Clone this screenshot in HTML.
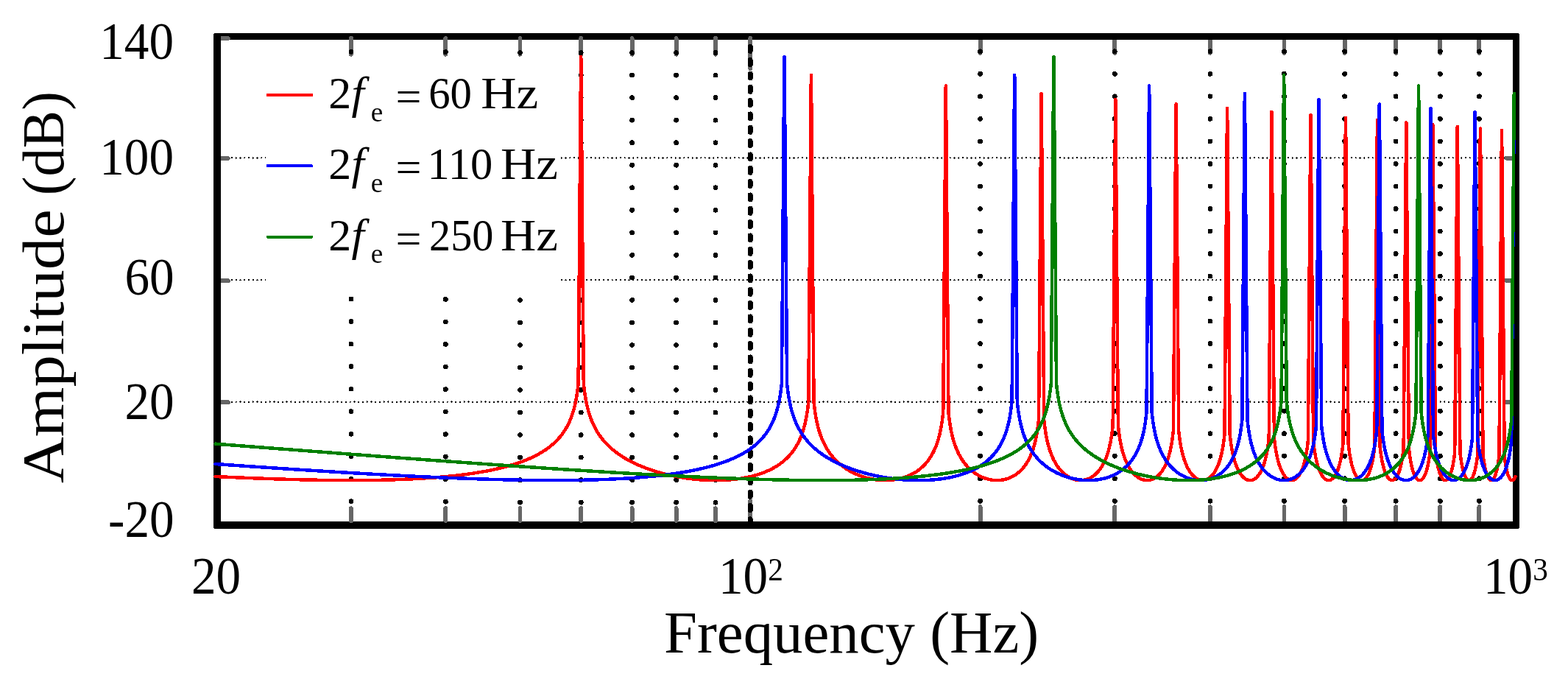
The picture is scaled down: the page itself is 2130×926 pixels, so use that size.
<!DOCTYPE html>
<html lang="en"><head><meta charset="utf-8"><title>Amplitude vs Frequency</title>
<style>html,body{margin:0;padding:0;background:#fff}body{width:2130px;height:926px;overflow:hidden}svg{display:block}text{font-family:"Liberation Serif","DejaVu Serif",serif;fill:#000}.it{font-style:italic}</style></head><body>
<svg width="2130" height="926" viewBox="0 0 2130 926">
<rect x="0" y="0" width="2130" height="926" fill="#fff"/>
<g stroke="#666" stroke-width="5.9" stroke-linecap="round" fill="none" shape-rendering="crispEdges">
<line x1="1331.55" y1="50" x2="1331.55" y2="71.8"/>
<line x1="1331.55" y1="688.3" x2="1331.55" y2="712"/>
<line x1="1514.29" y1="50" x2="1514.29" y2="71.8"/>
<line x1="1514.29" y1="688.3" x2="1514.29" y2="712"/>
<line x1="1643.94" y1="50" x2="1643.94" y2="71.8"/>
<line x1="1643.94" y1="688.3" x2="1643.94" y2="712"/>
<line x1="1744.50" y1="50" x2="1744.50" y2="71.8"/>
<line x1="1744.50" y1="688.3" x2="1744.50" y2="712"/>
<line x1="1826.67" y1="50" x2="1826.67" y2="71.8"/>
<line x1="1826.67" y1="688.3" x2="1826.67" y2="712"/>
<line x1="1896.15" y1="50" x2="1896.15" y2="71.8"/>
<line x1="1896.15" y1="688.3" x2="1896.15" y2="712"/>
<line x1="1956.33" y1="50" x2="1956.33" y2="71.8"/>
<line x1="1956.33" y1="688.3" x2="1956.33" y2="712"/>
<line x1="2009.41" y1="50" x2="2009.41" y2="71.8"/>
<line x1="2009.41" y1="688.3" x2="2009.41" y2="712"/>
<line x1="2046.2" y1="214.60" x2="2058" y2="214.60"/>
<line x1="2046.2" y1="380.70" x2="2058" y2="380.70"/>
<line x1="2046.2" y1="546.00" x2="2058" y2="546.00"/>
</g>
<path fill="#000" fill-rule="evenodd" shape-rendering="crispEdges" d="M293 45H2061Q2064 45 2064 48V715Q2064 718 2061 718H293Q290 718 290 715V48Q290 45 293 45ZM300 54V708H2055V54Z"/>
<g stroke="#666" stroke-width="5.9" stroke-linecap="round" fill="none" shape-rendering="crispEdges">
<line x1="476.96" y1="52" x2="476.96" y2="73.7"/>
<line x1="476.96" y1="690.2" x2="476.96" y2="707"/>
<line x1="605.31" y1="52" x2="605.31" y2="73.7"/>
<line x1="605.31" y1="690.2" x2="605.31" y2="707"/>
<line x1="706.47" y1="52" x2="706.47" y2="73.7"/>
<line x1="706.47" y1="690.2" x2="706.47" y2="707"/>
<line x1="789.24" y1="52" x2="789.24" y2="73.7"/>
<line x1="789.24" y1="690.2" x2="789.24" y2="707"/>
<line x1="858.62" y1="52" x2="858.62" y2="73.7"/>
<line x1="858.62" y1="690.2" x2="858.62" y2="707"/>
<line x1="918.60" y1="52" x2="918.60" y2="73.7"/>
<line x1="918.60" y1="690.2" x2="918.60" y2="707"/>
<line x1="971.98" y1="52" x2="971.98" y2="73.7"/>
<line x1="971.98" y1="690.2" x2="971.98" y2="707"/>
<line x1="1019.16" y1="52" x2="1019.16" y2="93"/>
<line x1="1019.16" y1="680" x2="1019.16" y2="706"/>
</g>
<g stroke="#666" stroke-width="5.8" fill="none" shape-rendering="crispEdges">
<path d="M300 52.00H310.5" stroke-linecap="butt"/>
<circle cx="310.2" cy="52.00" r="2.6" fill="#666" stroke="none"/>
<path d="M300 215.00H310.5" stroke-linecap="butt"/>
<circle cx="310.2" cy="215.00" r="2.6" fill="#666" stroke="none"/>
<path d="M300 381.20H310.5" stroke-linecap="butt"/>
<circle cx="310.2" cy="381.20" r="2.6" fill="#666" stroke="none"/>
<path d="M300 546.20H310.5" stroke-linecap="butt"/>
<circle cx="310.2" cy="546.20" r="2.6" fill="#666" stroke="none"/>
</g>
<g stroke="#000" fill="none" stroke-linecap="round" shape-rendering="crispEdges">
<path d="M476.96 70.20V690" stroke-width="6.8" stroke-dasharray="0 30.53"/>
<path d="M605.31 70.60V690" stroke-width="6.8" stroke-dasharray="0 30.53"/>
<path d="M706.47 71.60V690" stroke-width="6.8" stroke-dasharray="0 30.53"/>
<path d="M789.24 71.60V690" stroke-width="6.8" stroke-dasharray="0 30.53"/>
<path d="M858.62 71.60V690" stroke-width="6.8" stroke-dasharray="0 30.53"/>
<path d="M918.60 71.60V690" stroke-width="6.8" stroke-dasharray="0 30.53"/>
<path d="M971.98 71.60V690" stroke-width="6.8" stroke-dasharray="0 30.53"/>
<path d="M1331.55 69.8V688" stroke-width="6.8" stroke-dasharray="0 30.525"/>
<path d="M1514.29 69.8V688" stroke-width="6.8" stroke-dasharray="0 30.525"/>
<path d="M1643.94 69.8V688" stroke-width="6.8" stroke-dasharray="0 30.525"/>
<path d="M1744.50 69.8V688" stroke-width="6.8" stroke-dasharray="0 30.525"/>
<path d="M1826.67 69.8V688" stroke-width="6.8" stroke-dasharray="0 30.525"/>
<path d="M1896.15 69.8V688" stroke-width="6.8" stroke-dasharray="0 30.525"/>
<path d="M1956.33 69.8V688" stroke-width="6.8" stroke-dasharray="0 30.525"/>
<path d="M2009.41 69.8V688" stroke-width="6.8" stroke-dasharray="0 30.525"/>
<path d="M1019.16 63.3V708" stroke-width="7" stroke-dasharray="6 12.33"/>
<path d="M315 214.45H2044" stroke-width="2.3" stroke-dasharray="0 5.74"/>
<path d="M315 380.30H2044" stroke-width="2.3" stroke-dasharray="0 5.74"/>
<path d="M315 545.60H2044" stroke-width="2.3" stroke-dasharray="0 5.74"/>
</g>
<rect x="361" y="84" width="398.6" height="313" fill="#fff"/>
<path d="M292.57,647.01 320.97,648.31 347.77,649.41 373.36,650.32 397.76,651.05 420.96,651.59 443.36,651.96 464.96,652.16 485.36,652.17 504.96,652.00 523.76,651.65 541.35,651.12 558.55,650.41 574.95,649.50 590.55,648.42 605.35,647.15 619.35,645.70 632.55,644.09 645.35,642.24 657.35,640.22 663.35,639.09 668.95,637.96 674.55,636.74 679.75,635.52 684.95,634.22 689.75,632.93 694.54,631.55 699.34,630.07 703.74,628.62 708.14,627.07 712.54,625.41 716.54,623.79 720.54,622.06 724.14,620.39 727.74,618.61 731.34,616.70 734.94,614.65 738.14,612.69 741.34,610.59 744.14,608.61 746.94,606.50 749.74,604.23 752.54,601.77 754.94,599.49 757.34,597.04 759.74,594.39 762.54,590.98 764.94,587.75 767.34,584.16 769.74,580.14 771.74,576.38 773.74,572.14 775.34,568.33 776.94,564.04 778.54,559.13 779.74,554.94 780.94,550.16 782.14,544.63 783.34,538.05 784.14,532.86 784.94,526.77 785.60,520.77 789.15,77.00 789.25,77.00 792.80,521.05 793.34,526.01 794.14,532.34 794.94,537.71 795.74,542.39 796.54,546.53 797.34,550.25 798.14,553.62 799.34,558.14 800.54,562.17 801.74,565.79 802.94,569.09 804.54,573.06 806.14,576.64 807.74,579.90 809.34,582.90 811.34,586.32 813.34,589.45 815.34,592.34 817.34,595.01 819.74,597.97 822.14,600.71 824.94,603.67 827.34,606.02 830.14,608.58 832.94,610.97 836.14,613.52 839.34,615.89 842.54,618.11 846.14,620.44 849.74,622.62 853.34,624.66 857.33,626.78 861.33,628.77 865.33,630.63 868.93,632.21 872.93,633.86 876.93,635.41 880.93,636.87 884.93,638.25 889.33,639.67 897.73,642.14 906.53,644.39 915.73,646.42 924.93,648.13 929.73,648.90 934.53,649.59 944.13,650.73 953.33,651.52 962.53,652.01 971.73,652.18 980.53,652.04 984.93,651.86 989.33,651.58 993.73,651.22 997.73,650.82 1002.13,650.28 1006.13,649.70 1010.13,649.04 1013.73,648.36 1017.32,647.60 1020.92,646.75 1024.52,645.82 1027.72,644.90 1030.92,643.90 1034.12,642.81 1037.32,641.62 1040.12,640.50 1043.32,639.11 1046.12,637.79 1048.92,636.37 1051.72,634.83 1054.52,633.17 1056.92,631.64 1059.32,630.00 1061.72,628.23 1064.12,626.32 1066.12,624.61 1068.12,622.79 1070.12,620.83 1072.12,618.73 1074.12,616.45 1076.12,613.98 1077.72,611.85 1079.32,609.56 1080.92,607.08 1082.52,604.39 1083.72,602.21 1085.32,599.06 1086.52,596.47 1088.52,591.66 1090.52,586.03 1092.12,580.74 1093.72,574.49 1094.52,570.87 1095.32,566.84 1096.52,559.75 1097.32,554.07 1098.31,545.44 1101.86,101.93 1101.96,101.93 1105.51,545.73 1106.52,554.53 1107.72,562.81 1108.52,567.42 1109.32,571.51 1110.92,578.51 1111.72,581.56 1112.92,585.69 1114.12,589.38 1115.32,592.73 1116.52,595.79 1117.72,598.61 1118.92,601.22 1120.52,604.41 1122.12,607.34 1123.72,610.03 1125.32,612.52 1126.92,614.85 1128.92,617.53 1130.92,620.01 1132.92,622.31 1134.92,624.45 1136.92,626.45 1139.32,628.68 1141.72,630.74 1144.12,632.66 1146.52,634.44 1149.32,636.36 1151.72,637.89 1154.52,639.54 1158.92,641.88 1163.72,644.11 1168.52,646.03 1173.32,647.66 1178.11,649.03 1183.31,650.23 1188.51,651.14 1193.71,651.77 1198.91,652.11 1204.11,652.17 1209.31,651.94 1214.11,651.44 1218.91,650.67 1223.71,649.60 1228.11,648.32 1232.51,646.75 1236.51,645.02 1240.51,642.97 1244.11,640.82 1247.71,638.33 1250.91,635.78 1254.11,632.88 1255.71,631.26 1257.31,629.53 1260.11,626.18 1262.51,622.91 1264.91,619.20 1267.31,614.95 1269.31,610.88 1271.31,606.19 1272.91,601.87 1274.51,596.89 1276.11,591.04 1276.91,587.68 1277.71,583.96 1278.91,577.48 1280.11,569.51 1281.24,559.86 1284.79,116.51 1284.89,116.51 1288.44,560.15 1289.31,567.88 1290.51,576.36 1291.71,583.20 1292.91,588.93 1294.51,595.36 1296.11,600.79 1298.11,606.55 1300.11,611.47 1301.31,614.11 1302.51,616.55 1304.91,620.93 1306.11,622.90 1307.71,625.35 1310.51,629.18 1312.11,631.16 1313.71,632.99 1315.31,634.69 1316.91,636.28 1318.51,637.77 1320.51,639.48 1322.51,641.06 1324.51,642.50 1327.71,644.56 1330.91,646.34 1334.11,647.85 1337.70,649.27 1341.30,650.40 1344.90,651.25 1348.50,651.82 1352.10,652.13 1355.70,652.17 1359.30,651.92 1362.90,651.40 1366.10,650.67 1369.70,649.55 1372.90,648.26 1376.10,646.67 1378.90,645.00 1381.70,643.04 1384.50,640.75 1386.90,638.49 1389.30,635.92 1391.70,632.97 1393.70,630.19 1395.70,627.04 1397.70,623.45 1399.70,619.34 1401.30,615.56 1402.90,611.25 1404.10,607.57 1405.30,603.41 1406.50,598.64 1407.70,593.08 1408.50,588.78 1409.70,581.12 1410.50,574.87 1411.02,570.08 1414.57,126.85 1414.67,126.85 1418.22,570.36 1418.90,576.50 1420.10,585.30 1420.90,590.14 1422.10,596.34 1423.30,601.60 1424.50,606.15 1426.10,611.40 1427.70,615.92 1429.70,620.79 1431.70,624.99 1433.70,628.65 1436.10,632.48 1438.50,635.79 1440.90,638.67 1443.70,641.57 1446.50,644.04 1448.90,645.85 1451.70,647.64 1454.10,648.92 1456.90,650.13 1459.30,650.94 1462.10,651.63 1464.90,652.04 1467.70,652.18 1470.50,652.05 1472.90,651.72 1475.70,651.05 1478.10,650.24 1480.50,649.18 1482.90,647.87 1485.30,646.27 1487.70,644.37 1489.70,642.51 1491.70,640.37 1493.70,637.93 1495.70,635.12 1497.29,632.56 1498.89,629.70 1500.49,626.45 1502.09,622.75 1503.29,619.62 1504.49,616.10 1505.69,612.13 1506.89,607.57 1508.09,602.26 1508.89,598.17 1509.69,593.52 1510.49,588.12 1511.69,577.99 1515.24,134.87 1515.34,134.87 1518.89,578.28 1519.69,585.41 1520.49,591.33 1521.29,596.39 1522.09,600.81 1522.89,604.71 1524.09,609.84 1525.29,614.27 1526.89,619.36 1528.09,622.69 1529.69,626.61 1531.29,630.05 1533.29,633.80 1535.29,637.03 1537.29,639.83 1539.29,642.26 1541.69,644.74 1543.69,646.50 1545.69,647.99 1547.69,649.24 1550.09,650.43 1552.09,651.18 1554.49,651.81 1556.89,652.13 1558.89,652.18 1561.29,651.95 1563.29,651.52 1565.29,650.87 1567.29,649.98 1569.29,648.84 1571.29,647.43 1573.29,645.73 1575.29,643.69 1576.89,641.80 1578.49,639.64 1580.09,637.17 1581.69,634.35 1583.29,631.11 1584.49,628.36 1585.69,625.28 1586.89,621.80 1588.09,617.83 1588.89,614.87 1590.09,609.80 1590.89,605.90 1591.69,601.48 1592.49,596.37 1593.69,586.88 1593.95,584.45 1597.50,141.43 1597.60,141.43 1601.15,584.73 1601.69,589.70 1602.49,595.94 1603.29,601.22 1604.09,605.80 1604.89,609.82 1606.09,615.05 1606.89,618.12 1608.09,622.21 1609.29,625.81 1610.49,628.99 1611.69,631.84 1613.29,635.18 1614.89,638.10 1616.49,640.64 1618.09,642.85 1620.09,645.22 1621.69,646.83 1623.29,648.20 1624.89,649.36 1626.89,650.51 1628.49,651.21 1630.49,651.82 1632.49,652.13 1634.09,652.18 1636.09,651.97 1637.69,651.58 1639.69,650.82 1641.29,649.98 1642.89,648.91 1644.49,647.61 1646.09,646.05 1647.69,644.20 1649.29,642.03 1650.49,640.17 1652.09,637.33 1653.29,634.89 1654.49,632.14 1655.69,629.02 1656.89,625.47 1657.68,622.81 1658.48,619.88 1659.28,616.62 1660.08,612.97 1660.88,608.83 1661.68,604.07 1662.48,598.51 1663.49,589.89 1667.04,146.97 1667.14,146.97 1670.69,590.17 1671.68,598.76 1672.48,604.40 1673.28,609.22 1674.08,613.43 1674.88,617.14 1675.68,620.46 1676.48,623.45 1677.28,626.17 1678.48,629.79 1679.68,632.97 1680.88,635.78 1682.08,638.27 1683.68,641.16 1684.88,643.05 1686.48,645.23 1687.68,646.64 1689.28,648.24 1690.88,649.55 1692.48,650.58 1693.68,651.19 1695.28,651.77 1696.88,652.10 1698.48,652.18 1700.08,652.01 1701.68,651.59 1703.28,650.91 1704.48,650.22 1706.08,649.04 1707.28,647.95 1708.88,646.20 1710.08,644.65 1711.28,642.87 1712.48,640.83 1713.68,638.50 1714.48,636.77 1715.68,633.86 1716.48,631.69 1717.68,628.01 1718.48,625.23 1719.28,622.14 1720.08,618.66 1721.28,612.56 1722.48,604.98 1723.28,598.72 1723.73,594.59 1727.28,151.78 1727.38,151.78 1730.93,594.87 1732.08,604.58 1733.28,612.41 1734.48,618.71 1735.28,622.29 1736.08,625.48 1737.68,630.93 1738.48,633.28 1739.68,636.41 1740.48,638.27 1741.68,640.77 1742.88,642.94 1744.08,644.84 1745.28,646.48 1746.48,647.89 1747.68,649.08 1749.28,650.35 1750.48,651.08 1751.68,651.62 1752.88,651.98 1754.48,652.18 1755.28,652.16 1756.08,652.06 1757.28,651.76 1758.48,651.27 1759.68,650.59 1760.88,649.70 1762.08,648.60 1763.28,647.27 1764.48,645.68 1765.68,643.82 1766.48,642.42 1767.68,640.02 1768.48,638.22 1769.68,635.14 1770.48,632.82 1771.28,630.23 1772.08,627.35 1772.88,624.11 1773.68,620.44 1774.88,613.91 1776.08,605.63 1776.87,598.72 1780.42,156.01 1780.52,156.01 1784.07,599.00 1784.88,606.08 1786.08,614.41 1787.28,621.01 1788.48,626.41 1789.68,630.92 1790.48,633.54 1791.28,635.90 1792.88,639.95 1793.68,641.68 1794.88,643.97 1795.68,645.31 1796.88,647.06 1798.08,648.53 1799.28,649.73 1800.08,650.39 1801.28,651.18 1802.48,651.74 1803.68,652.07 1804.88,652.18 1806.08,652.07 1807.28,651.73 1808.48,651.15 1809.68,650.33 1810.88,649.25 1812.08,647.90 1812.88,646.83 1814.08,644.96 1814.88,643.52 1815.68,641.90 1816.48,640.10 1817.28,638.08 1818.08,635.83 1818.87,633.31 1819.67,630.47 1820.47,627.27 1821.27,623.63 1822.47,617.10 1823.67,608.77 1824.40,602.40 1827.95,159.80 1828.05,159.80 1831.60,602.68 1832.47,610.22 1833.27,615.88 1834.07,620.68 1835.27,626.67 1836.47,631.59 1837.67,635.69 1838.87,639.14 1839.67,641.14 1840.47,642.92 1841.27,644.52 1842.47,646.57 1843.27,647.74 1844.47,649.22 1845.27,650.02 1846.47,650.99 1847.27,651.47 1848.47,651.96 1849.67,652.17 1850.47,652.16 1851.67,651.92 1852.47,651.60 1853.67,650.88 1854.47,650.24 1855.67,649.01 1856.47,648.00 1857.67,646.18 1858.47,644.74 1859.27,643.11 1860.07,641.27 1860.87,639.19 1861.67,636.83 1862.87,632.71 1864.07,627.70 1865.27,621.50 1866.47,613.60 1867.40,605.72 1870.95,163.23 1871.05,163.23 1874.60,605.99 1875.27,611.90 1876.07,617.79 1876.87,622.72 1877.67,626.94 1878.47,630.60 1879.67,635.24 1880.47,637.87 1881.67,641.26 1882.47,643.20 1883.27,644.90 1884.07,646.39 1885.27,648.27 1886.07,649.30 1886.87,650.16 1887.67,650.87 1888.87,651.64 1889.67,651.97 1890.87,652.18 1892.07,652.07 1892.87,651.81 1894.07,651.13 1894.87,650.48 1895.67,649.67 1896.47,648.68 1897.27,647.51 1898.07,646.15 1898.87,644.56 1899.67,642.74 1900.47,640.66 1901.27,638.29 1902.47,634.07 1903.67,628.87 1904.87,622.35 1905.67,616.99 1906.66,608.73 1910.21,166.36 1910.31,166.36 1913.86,609.01 1914.87,617.52 1916.07,625.26 1916.87,629.46 1917.67,633.07 1918.47,636.20 1919.27,638.94 1920.07,641.32 1920.87,643.41 1921.67,645.22 1922.47,646.79 1923.27,648.14 1924.07,649.27 1924.87,650.21 1925.67,650.96 1926.47,651.53 1927.27,651.92 1927.67,652.05 1928.47,652.18 1929.27,652.14 1930.07,651.92 1930.47,651.75 1931.27,651.26 1932.07,650.59 1932.87,649.73 1933.67,648.67 1934.47,647.38 1935.27,645.87 1936.07,644.09 1936.87,642.03 1937.67,639.65 1938.87,635.37 1940.07,630.02 1940.87,625.67 1942.07,617.52 1942.77,611.49 1946.32,169.23 1946.42,169.23 1949.97,611.76 1950.87,619.37 1951.67,624.84 1952.47,629.42 1953.67,635.04 1954.87,639.53 1955.67,642.02 1956.47,644.16 1957.67,646.82 1958.47,648.26 1959.27,649.46 1960.07,650.43 1960.87,651.17 1961.67,651.71 1962.47,652.05 1963.27,652.18 1963.67,652.17 1964.47,652.00 1965.27,651.63 1966.07,651.04 1966.87,650.24 1967.67,649.20 1968.47,647.92 1969.27,646.38 1970.07,644.55 1970.87,642.39 1972.07,638.45 1973.27,633.47 1974.47,627.10 1975.27,621.79 1976.20,614.03 1979.75,171.90 1979.85,171.90 1983.40,614.30 1983.66,616.71 1984.06,620.05 1984.86,625.77 1986.06,632.59 1987.26,637.90 1988.06,640.80 1988.86,643.27 1989.66,645.38 1990.46,647.16 1991.26,648.64 1992.06,649.84 1992.86,650.78 1993.66,651.48 1994.46,651.94 1994.86,652.08 1995.66,652.18 1996.46,652.06 1996.86,651.91 1997.66,651.43 1998.46,650.70 1999.26,649.71 2000.06,648.46 2000.86,646.90 2001.66,645.03 2002.46,642.79 2003.26,640.14 2004.06,637.01 2005.26,631.19 2006.46,623.55 2007.33,616.37 2010.88,174.38 2010.98,174.38 2014.53,616.65 2015.26,622.91 2016.46,630.86 2017.26,635.06 2018.46,640.14 2019.66,644.08 2020.86,647.10 2022.06,649.36 2022.86,650.47 2023.66,651.30 2024.46,651.86 2025.26,652.14 2026.06,652.16 2026.86,651.91 2027.66,651.39 2028.46,650.59 2029.26,649.49 2029.66,648.83 2030.86,646.32 2032.06,642.95 2033.26,638.53 2034.46,632.75 2035.26,627.89 2035.66,625.07 2036.44,618.56 2039.99,176.70 2040.09,176.70 2043.64,618.83 2044.06,622.51 2044.86,628.47 2045.66,633.33 2046.46,637.36 2047.26,640.72 2048.06,643.52 2048.86,645.85 2050.06,648.58 2050.86,649.94 2051.26,650.50 2052.06,651.36 2052.46,651.68 2053.26,652.08 2054.06,652.18 2054.46,652.12 2055.26,651.76 2055.66,651.47 2056.46,650.64 2057.26,649.48 2057.66,648.77 2058.46,647.06" fill="none" stroke="#ff0000" stroke-width="4.5" stroke-linejoin="round" stroke-linecap="round" shape-rendering="crispEdges"/>
<path d="M292.57,630.01 341.37,633.40 386.96,636.45 429.36,639.17 469.36,641.62 506.56,643.77 541.75,645.66 574.95,647.30 606.55,648.71 636.55,649.87 664.95,650.79 691.75,651.48 717.34,651.93 741.74,652.16 764.54,652.15 786.54,651.92 807.34,651.45 827.74,650.73 846.94,649.76 864.93,648.56 873.73,647.86 882.13,647.10 890.53,646.26 898.53,645.37 906.13,644.44 913.73,643.41 920.93,642.35 928.13,641.18 934.93,639.98 941.33,638.76 947.73,637.42 954.13,635.97 960.13,634.50 965.73,633.01 971.33,631.40 976.53,629.78 981.73,628.03 986.53,626.29 991.33,624.40 995.73,622.54 1000.13,620.53 1004.53,618.35 1008.53,616.20 1012.53,613.87 1016.12,611.59 1019.72,609.12 1022.12,607.34 1024.52,605.46 1026.92,603.45 1028.92,601.67 1030.92,599.78 1032.92,597.77 1034.92,595.62 1036.92,593.32 1040.12,589.26 1041.72,587.02 1043.32,584.62 1044.92,582.03 1046.12,579.95 1047.72,576.96 1048.92,574.53 1050.12,571.90 1051.32,569.06 1053.32,563.73 1054.52,560.09 1055.32,557.42 1056.92,551.39 1057.72,547.93 1058.52,544.09 1059.72,537.40 1060.92,529.13 1061.88,520.77 1065.43,77.00 1065.53,77.00 1069.08,521.05 1069.32,523.38 1070.52,533.10 1071.72,540.75 1072.52,545.07 1073.32,548.93 1074.12,552.42 1075.32,557.09 1076.52,561.23 1077.72,564.94 1078.92,568.31 1080.12,571.39 1081.32,574.23 1082.92,577.71 1084.52,580.88 1086.12,583.79 1087.72,586.49 1089.72,589.61 1091.72,592.48 1093.72,595.14 1095.72,597.62 1098.12,600.39 1100.12,602.54 1102.52,604.97 1104.92,607.24 1107.32,609.38 1110.12,611.71 1112.92,613.91 1115.72,615.97 1118.92,618.18 1122.12,620.26 1125.32,622.21 1128.52,624.05 1132.12,626.01 1135.72,627.85 1139.72,629.76 1143.72,631.56 1147.72,633.25 1151.72,634.84 1156.12,636.48 1160.52,638.02 1164.92,639.46 1169.32,640.80 1174.12,642.17 1178.91,643.43 1183.71,644.61 1188.51,645.69 1193.31,646.68 1198.11,647.59 1202.91,648.42 1207.71,649.16 1212.91,649.87 1218.11,650.49 1222.91,650.98 1228.11,651.41 1232.91,651.73 1238.11,651.98 1242.91,652.13 1247.71,652.18 1252.51,652.15 1257.31,652.03 1261.71,651.83 1266.51,651.52 1270.91,651.14 1275.31,650.67 1279.31,650.16 1283.31,649.56 1287.31,648.88 1291.31,648.09 1294.91,647.30 1298.91,646.32 1302.51,645.34 1306.11,644.25 1309.31,643.19 1312.91,641.89 1316.11,640.62 1319.31,639.24 1322.11,637.93 1325.31,636.31 1328.11,634.77 1330.91,633.11 1333.31,631.57 1336.11,629.63 1338.50,627.84 1340.90,625.90 1343.30,623.80 1345.70,621.53 1347.70,619.47 1349.70,617.26 1351.70,614.86 1353.70,612.25 1355.30,609.99 1356.90,607.55 1358.50,604.90 1360.10,602.01 1361.30,599.66 1362.50,597.12 1363.70,594.38 1364.90,591.38 1366.10,588.09 1367.30,584.44 1368.10,581.78 1369.70,575.72 1370.50,572.24 1371.30,568.37 1372.50,561.62 1373.70,553.24 1374.59,545.44 1378.14,101.93 1378.24,101.93 1381.79,545.73 1382.50,552.18 1383.70,560.95 1384.90,568.00 1386.10,573.88 1387.70,580.47 1389.30,586.03 1391.30,591.94 1393.30,597.01 1394.50,599.73 1395.70,602.26 1398.10,606.82 1399.30,608.89 1400.90,611.47 1403.70,615.55 1405.30,617.67 1406.90,619.66 1410.10,623.30 1413.70,626.94 1415.70,628.77 1417.70,630.50 1421.70,633.64 1423.70,635.08 1426.10,636.69 1428.50,638.20 1430.90,639.60 1435.70,642.13 1438.10,643.27 1440.90,644.49 1446.10,646.50 1451.30,648.18 1454.10,648.95 1456.90,649.64 1459.70,650.25 1462.50,650.77 1465.30,651.21 1468.10,651.57 1470.90,651.85 1473.70,652.04 1476.50,652.15 1479.30,652.18 1482.10,652.13 1484.90,651.98 1490.10,651.48 1492.90,651.08 1495.30,650.65 1498.09,650.06 1500.49,649.47 1502.89,648.79 1505.29,648.03 1509.69,646.38 1512.09,645.34 1514.09,644.38 1518.09,642.22 1520.09,641.00 1522.09,639.68 1525.69,637.01 1527.69,635.35 1529.29,633.91 1532.49,630.73 1535.29,627.54 1538.09,623.90 1539.69,621.57 1540.89,619.68 1543.29,615.50 1544.49,613.17 1545.69,610.64 1547.69,605.92 1549.69,600.37 1551.29,595.15 1552.49,590.61 1553.29,587.21 1554.09,583.43 1554.89,579.18 1555.69,574.33 1556.49,568.70 1557.51,559.86 1561.06,116.51 1561.16,116.51 1564.71,560.15 1565.29,565.45 1566.09,571.71 1566.89,577.02 1568.09,583.75 1569.29,589.40 1570.49,594.27 1571.69,598.54 1573.29,603.52 1574.89,607.87 1576.49,611.72 1578.09,615.16 1580.09,619.01 1582.09,622.43 1584.49,626.08 1586.89,629.32 1589.29,632.21 1592.09,635.21 1595.29,638.22 1598.49,640.83 1600.09,642.01 1602.09,643.38 1605.69,645.54 1609.29,647.36 1612.89,648.87 1614.89,649.58 1616.89,650.20 1620.49,651.10 1622.49,651.49 1624.49,651.79 1626.49,652.00 1628.49,652.13 1630.49,652.18 1632.49,652.15 1634.49,652.03 1636.49,651.82 1640.09,651.22 1643.69,650.30 1645.69,649.66 1647.29,649.06 1650.49,647.65 1653.69,645.92 1656.89,643.84 1659.68,641.69 1662.48,639.18 1665.28,636.25 1667.68,633.36 1670.08,630.03 1672.48,626.17 1674.48,622.47 1676.48,618.19 1678.08,614.26 1679.68,609.74 1681.28,604.48 1682.48,599.87 1683.68,594.53 1684.88,588.17 1685.68,583.16 1686.48,577.30 1687.30,570.08 1690.85,126.85 1690.95,126.85 1694.50,570.36 1695.68,580.48 1696.48,585.98 1697.28,590.74 1698.08,594.92 1698.88,598.66 1699.68,602.03 1700.88,606.53 1702.08,610.50 1703.28,614.04 1704.48,617.23 1705.68,620.12 1706.88,622.77 1708.48,625.96 1710.08,628.84 1711.68,631.43 1714.08,634.88 1716.48,637.88 1718.88,640.50 1721.68,643.12 1724.48,645.35 1727.28,647.23 1730.08,648.77 1731.68,649.52 1733.28,650.17 1736.08,651.09 1737.68,651.48 1739.28,651.79 1740.88,652.01 1742.48,652.14 1744.08,652.18 1745.68,652.14 1747.28,652.00 1748.88,651.77 1751.68,651.14 1754.48,650.20 1757.28,648.93 1758.88,648.05 1760.08,647.30 1762.48,645.59 1764.88,643.56 1767.28,641.15 1769.68,638.31 1771.68,635.55 1773.68,632.38 1775.28,629.49 1777.28,625.33 1778.88,621.47 1780.48,617.00 1781.68,613.15 1782.88,608.75 1784.08,603.64 1785.28,597.59 1786.08,592.84 1787.28,584.20 1787.97,577.99 1791.52,134.87 1791.62,134.87 1795.17,578.28 1796.08,586.26 1797.28,594.62 1798.48,601.35 1799.68,606.97 1801.28,613.24 1802.88,618.48 1803.68,620.81 1804.88,623.99 1806.88,628.62 1808.48,631.82 1810.48,635.32 1812.48,638.34 1813.68,639.96 1814.88,641.45 1816.88,643.66 1819.27,645.92 1821.67,647.79 1824.07,649.30 1826.47,650.48 1828.87,651.34 1831.27,651.90 1832.87,652.11 1834.07,652.18 1835.67,652.15 1836.87,652.04 1839.27,651.60 1841.67,650.83 1842.87,650.32 1844.07,649.72 1845.27,649.03 1846.47,648.24 1848.47,646.70 1850.47,644.85 1852.47,642.65 1854.47,640.05 1856.47,636.99 1858.07,634.15 1859.67,630.88 1861.27,627.10 1862.47,623.86 1863.67,620.19 1864.87,615.99 1866.07,611.11 1866.87,607.39 1868.07,600.84 1868.87,595.63 1869.67,589.46 1870.22,584.45 1873.77,141.43 1873.87,141.43 1877.42,584.73 1878.47,593.78 1879.27,599.38 1880.47,606.36 1881.27,610.32 1882.07,613.85 1883.27,618.51 1884.47,622.55 1886.07,627.20 1887.67,631.17 1889.27,634.61 1891.27,638.28 1893.27,641.37 1895.27,643.98 1897.27,646.16 1898.47,647.29 1899.67,648.29 1901.67,649.68 1902.87,650.36 1904.07,650.93 1905.27,651.39 1906.47,651.75 1907.67,652.00 1908.87,652.14 1910.07,652.18 1911.27,652.12 1912.47,651.95 1913.67,651.67 1914.87,651.28 1916.07,650.77 1918.07,649.67 1919.27,648.84 1920.47,647.87 1922.47,645.93 1924.47,643.55 1926.07,641.27 1927.27,639.32 1928.07,637.89 1929.67,634.66 1931.27,630.87 1932.47,627.58 1933.67,623.82 1934.87,619.47 1936.07,614.36 1937.27,608.23 1938.07,603.39 1938.87,597.70 1939.77,589.89 1943.32,146.97 1943.42,146.97 1946.97,590.17 1948.07,599.57 1948.87,605.08 1949.67,609.82 1950.47,613.95 1951.67,619.29 1952.47,622.39 1953.67,626.51 1954.87,630.09 1956.07,633.23 1957.27,636.01 1958.47,638.48 1959.67,640.66 1961.27,643.20 1962.87,645.36 1964.47,647.18 1966.07,648.69 1966.87,649.33 1968.07,650.17 1969.67,651.05 1970.47,651.40 1971.67,651.80 1972.47,651.99 1973.67,652.15 1975.27,652.16 1976.47,651.99 1977.27,651.81 1978.86,651.24 1980.06,650.64 1980.86,650.15 1982.46,648.95 1984.06,647.43 1985.66,645.57 1987.26,643.33 1988.46,641.35 1990.06,638.28 1991.26,635.59 1992.86,631.39 1994.06,627.66 1995.26,623.31 1996.46,618.17 1997.66,611.96 1998.46,607.00 1999.26,601.16 2000.01,594.59 2003.56,151.78 2003.66,151.78 2007.21,594.87 2008.06,602.35 2008.86,608.12 2010.06,615.23 2011.26,621.02 2012.46,625.88 2013.66,630.01 2015.26,634.65 2016.86,638.51 2018.46,641.72 2019.26,643.12 2020.46,645.00 2021.26,646.10 2022.46,647.57 2023.26,648.42 2024.46,649.52 2025.26,650.15 2026.46,650.92 2027.66,651.51 2028.86,651.91 2030.06,652.13 2031.26,652.18 2032.46,652.04 2033.26,651.85 2034.46,651.41 2035.26,651.01 2036.86,649.94 2038.46,648.49 2040.06,646.63 2041.66,644.31 2042.86,642.22 2044.46,638.90 2045.66,635.94 2046.86,632.49 2048.06,628.44 2049.26,623.65 2050.06,619.91 2050.86,615.64 2051.66,610.67 2052.46,604.78 2053.15,598.72 2056.70,156.01 2056.80,156.01" fill="none" stroke="#0000ff" stroke-width="4.5" stroke-linejoin="round" stroke-linecap="round" shape-rendering="crispEdges"/>
<path d="M292.57,602.68 456.96,615.25 526.16,620.43 588.95,625.04 646.55,629.17 699.34,632.85 748.14,636.14 793.34,639.05 836.54,641.70 876.53,644.00 914.13,645.99 949.73,647.71 982.93,649.13 1014.53,650.28 1044.12,651.15 1072.12,651.76 1099.72,652.11 1126.12,652.17 1150.92,651.94 1162.92,651.72 1174.52,651.42 1185.71,651.05 1196.51,650.60 1206.91,650.10 1217.31,649.50 1227.31,648.83 1236.91,648.09 1246.11,647.29 1255.31,646.38 1264.11,645.41 1272.51,644.38 1280.91,643.24 1288.91,642.03 1296.51,640.76 1304.11,639.37 1311.31,637.93 1318.11,636.43 1324.91,634.79 1331.31,633.11 1337.30,631.38 1343.30,629.50 1348.90,627.59 1354.50,625.50 1359.70,623.39 1364.50,621.26 1368.10,619.54 1371.70,617.70 1374.90,615.95 1378.10,614.08 1381.30,612.08 1384.50,609.93 1387.30,607.91 1390.10,605.75 1392.90,603.41 1395.30,601.26 1397.70,598.95 1400.10,596.45 1402.10,594.21 1404.10,591.80 1406.10,589.20 1408.10,586.37 1410.10,583.28 1411.70,580.58 1413.30,577.65 1414.90,574.43 1416.50,570.88 1417.70,567.95 1418.90,564.74 1420.10,561.21 1421.30,557.27 1422.10,554.37 1423.30,549.51 1424.10,545.85 1424.90,541.76 1425.70,537.13 1426.90,528.78 1427.81,520.77 1431.36,77.00 1431.46,77.00 1435.01,521.05 1435.70,527.29 1436.90,536.12 1438.10,543.21 1439.30,549.13 1440.50,554.22 1442.10,560.05 1443.70,565.07 1445.70,570.50 1447.70,575.23 1450.10,580.19 1452.50,584.56 1454.90,588.46 1457.70,592.54 1460.90,596.71 1464.10,600.44 1467.70,604.22 1470.50,606.91 1473.30,609.41 1476.50,612.07 1479.70,614.54 1482.90,616.84 1486.50,619.26 1490.10,621.52 1493.70,623.63 1497.69,625.82 1501.69,627.87 1505.69,629.78 1510.09,631.76 1514.49,633.60 1519.29,635.47 1524.09,637.21 1528.89,638.83 1534.09,640.46 1539.29,641.96 1544.49,643.34 1549.69,644.62 1554.89,645.78 1560.49,646.93 1565.69,647.88 1571.29,648.80 1576.49,649.56 1582.09,650.27 1587.69,650.87 1593.29,651.36 1598.89,651.73 1604.49,652.00 1610.09,652.15 1615.29,652.18 1620.49,652.11 1625.29,651.95 1630.09,651.68 1634.89,651.32 1639.69,650.85 1644.09,650.31 1648.89,649.62 1653.29,648.87 1657.68,648.00 1662.08,647.01 1666.08,645.99 1670.08,644.86 1674.08,643.59 1677.68,642.32 1681.28,640.93 1684.88,639.40 1688.48,637.72 1691.68,636.08 1694.88,634.28 1697.68,632.58 1700.48,630.73 1703.28,628.72 1706.08,626.53 1708.48,624.48 1710.88,622.26 1713.28,619.85 1715.68,617.21 1717.68,614.81 1719.68,612.19 1721.68,609.33 1723.68,606.18 1725.28,603.41 1726.88,600.37 1728.08,597.90 1729.28,595.21 1730.48,592.30 1731.68,589.10 1732.88,585.57 1734.08,581.62 1734.88,578.72 1736.48,572.04 1737.28,568.15 1738.08,563.76 1739.28,555.94 1740.08,549.55 1740.52,545.44 1744.07,101.93 1744.17,101.93 1747.72,545.73 1748.88,555.68 1749.68,561.24 1750.48,566.05 1751.28,570.29 1752.48,575.83 1753.28,579.10 1754.48,583.51 1755.28,586.17 1756.48,589.82 1758.48,595.18 1759.68,598.04 1760.88,600.69 1763.28,605.45 1764.48,607.60 1766.08,610.27 1767.68,612.75 1769.28,615.06 1770.88,617.21 1772.48,619.23 1774.08,621.13 1776.08,623.35 1778.08,625.42 1780.08,627.35 1782.08,629.17 1784.08,630.87 1786.08,632.46 1788.48,634.26 1790.88,635.93 1793.28,637.49 1795.68,638.94 1798.08,640.29 1800.48,641.55 1803.28,642.92 1805.68,644.00 1808.48,645.16 1811.28,646.23 1814.08,647.20 1816.88,648.07 1820.07,648.97 1822.87,649.66 1826.07,650.34 1828.87,650.85 1832.07,651.33 1835.27,651.70 1838.07,651.94 1841.27,652.12 1844.07,652.18 1847.27,652.15 1850.07,652.03 1852.87,651.82 1855.67,651.53 1858.47,651.13 1861.27,650.64 1864.07,650.05 1866.87,649.35 1869.67,648.53 1872.07,647.74 1874.87,646.69 1877.27,645.68 1879.67,644.56 1882.07,643.32 1884.47,641.96 1886.47,640.72 1888.87,639.09 1890.87,637.61 1892.87,635.99 1894.87,634.24 1896.87,632.33 1898.47,630.68 1900.87,627.97 1903.27,624.93 1905.67,621.50 1907.67,618.28 1909.67,614.66 1911.67,610.55 1913.27,606.81 1914.87,602.58 1916.47,597.72 1917.67,593.54 1918.87,588.76 1920.07,583.21 1921.27,576.57 1922.07,571.32 1922.87,565.13 1923.45,559.86 1927.00,116.51 1927.10,116.51 1930.65,560.15 1931.67,569.06 1932.47,574.75 1933.27,579.66 1934.47,585.95 1935.27,589.59 1936.47,594.43 1937.67,598.69 1938.87,602.47 1940.07,605.88 1941.67,609.95 1943.27,613.58 1944.87,616.84 1946.87,620.50 1948.87,623.77 1950.87,626.71 1953.27,629.88 1955.67,632.71 1958.07,635.25 1960.47,637.54 1963.27,639.93 1966.07,642.04 1969.27,644.16 1972.47,646.00 1975.67,647.57 1978.86,648.89 1982.06,649.98 1985.26,650.84 1988.46,651.49 1992.06,651.97 1995.26,652.17 1998.86,652.13 2002.06,651.86 2005.26,651.37 2008.46,650.63 2010.86,649.91 2013.26,649.04 2015.66,648.01 2017.66,647.02 2019.66,645.90 2021.66,644.64 2023.66,643.23 2025.66,641.65 2027.66,639.89 2029.26,638.34 2031.26,636.20 2032.86,634.31 2034.46,632.24 2036.06,629.96 2037.66,627.45 2038.86,625.39 2040.06,623.16 2041.26,620.74 2042.46,618.09 2043.66,615.18 2044.86,611.96 2045.66,609.61 2046.86,605.72 2047.66,602.85 2049.26,596.20 2050.06,592.31 2050.86,587.91 2052.06,580.03 2053.23,570.08 2056.78,126.85 2056.88,126.85" fill="none" stroke="#008000" stroke-width="4.5" stroke-linejoin="round" stroke-linecap="round" shape-rendering="crispEdges"/>
<path d="M363.7 129.0H423.2" stroke="#ff0000" stroke-width="4.2" stroke-linecap="round" fill="none" shape-rendering="crispEdges"/>
<text y="147.1" font-size="62.0"><tspan x="446.3">2</tspan><tspan class="it" x="477.5">f</tspan><tspan x="503.8" dy="17.6" font-size="37.2">e </tspan><tspan x="537.6" dy="-12.6">= </tspan><tspan x="582.2" dy="-5" textLength="58.8" lengthAdjust="spacingAndGlyphs">60</tspan><tspan> </tspan><tspan x="653.2" textLength="78.0" lengthAdjust="spacingAndGlyphs">Hz</tspan></text>
<path d="M363.7 225.2H423.2" stroke="#0000ff" stroke-width="4.2" stroke-linecap="round" fill="none" shape-rendering="crispEdges"/>
<text y="243.2" font-size="62.0"><tspan x="446.3">2</tspan><tspan class="it" x="477.5">f</tspan><tspan x="503.8" dy="17.6" font-size="37.2">e </tspan><tspan x="537.6" dy="-12.6">= </tspan><tspan x="580.6" dy="-5" textLength="88.6" lengthAdjust="spacingAndGlyphs">110</tspan><tspan> </tspan><tspan x="680.0" textLength="78.0" lengthAdjust="spacingAndGlyphs">Hz</tspan></text>
<path d="M363.7 321.7H423.2" stroke="#008000" stroke-width="4.2" stroke-linecap="round" fill="none" shape-rendering="crispEdges"/>
<text y="339.5" font-size="62.0"><tspan x="446.3">2</tspan><tspan class="it" x="477.5">f</tspan><tspan x="503.8" dy="17.6" font-size="37.2">e </tspan><tspan x="537.6" dy="-12.6">= </tspan><tspan x="583.0" dy="-5" textLength="87.4" lengthAdjust="spacingAndGlyphs">250</tspan><tspan> </tspan><tspan x="680.0" textLength="78.0" lengthAdjust="spacingAndGlyphs">Hz</tspan></text>
<text transform="translate(236.0,79.7) scale(0.944,1)" text-anchor="end" font-size="71.2">140</text>
<text transform="translate(236.0,236.9) scale(0.944,1)" text-anchor="end" font-size="71.2">100</text>
<text transform="translate(236.6,400.0) scale(0.944,1)" text-anchor="end" font-size="71.2">60</text>
<text transform="translate(236.6,568.9) scale(0.944,1)" text-anchor="end" font-size="71.2">20</text>
<text transform="translate(236.6,728.9) scale(0.944,1)" text-anchor="end" font-size="71.2">-20</text>
<text transform="translate(259.9,805.8) scale(0.944,1)" font-size="71.2">20</text>
<text transform="translate(976,805.8) scale(0.944,1)" font-size="71.2">10<tspan dy="-18" font-size="43.8">2</tspan></text>
<text transform="translate(2015,805.8) scale(0.944,1)" font-size="71.2">10<tspan dy="-18" font-size="43.8">3</tspan></text>
<text x="902" y="886.2" font-size="79.4" textLength="509.2" lengthAdjust="spacingAndGlyphs">Frequency (Hz)</text>
<text transform="translate(85.9,656.0) rotate(-90)" font-size="79.4"><tspan x="0" textLength="393.6" lengthAdjust="spacingAndGlyphs">Amplitude </tspan><tspan x="390.8" textLength="141.0" lengthAdjust="spacingAndGlyphs">(dB)</tspan></text>
</svg></body></html>
